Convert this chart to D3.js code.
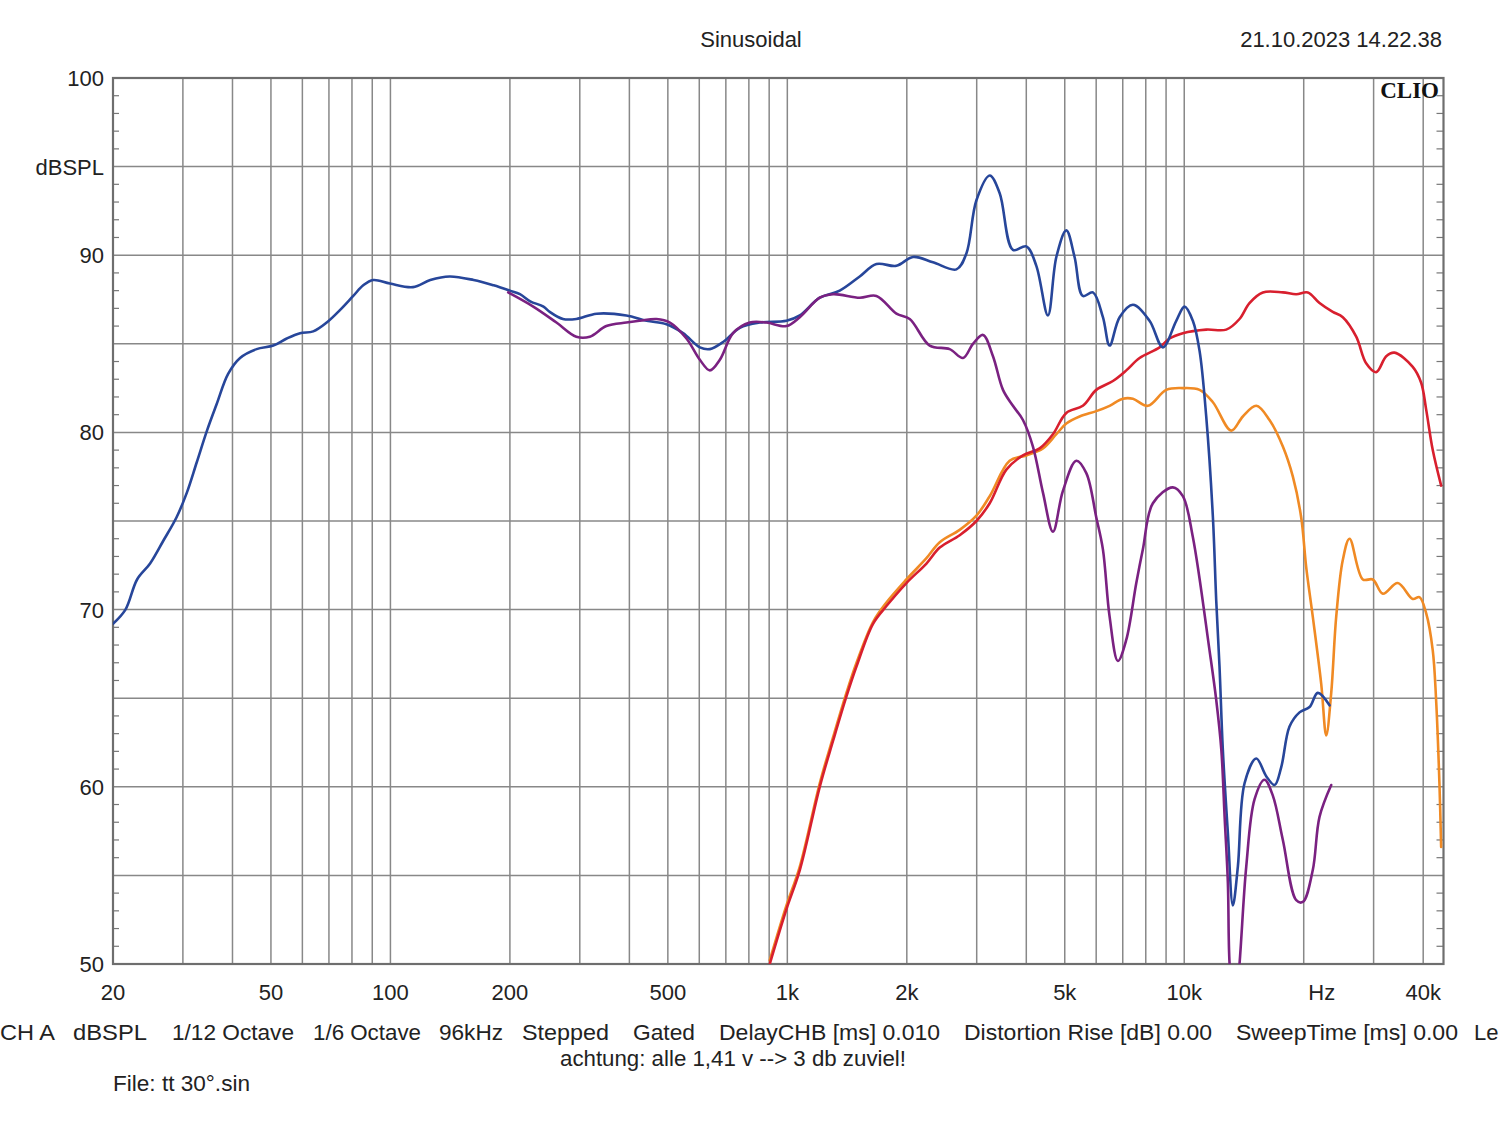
<!DOCTYPE html>
<html>
<head>
<meta charset="utf-8">
<script src="https://cdn.jsdelivr.net/npm/d3@7"></script>
<style>
  html, body { margin: 0; padding: 0; background: #fff; }
  svg { display: block; font-family: "Liberation Sans", Arial, sans-serif; }
</style>
</head>
<body>
<svg id="chart" width="1500" height="1121"></svg>
<script>
// ---------- data ----------
const blueF = [20,21.5,23,24.8,26.8,28.9,30.7,32.5,34.5,36.5,39,41.8,46,50.7,54.8,59.2,63.9,69.1,74.6,80.6,85.4,90.5,99.7,114,126,141,162,182,200,212,225,243,252,272,294,331,393,442,496,546,602,638,689,759,852,995,1075,1207,1355,1522,1677,1883,2073,2328,2667,2826,2995,3235,3428,3702,4001,4240,4535,4762,5045,5293,5553,5887,6239,6486,6874,7424,8177,8835,9548,10020,10512,10930,11360,11810,12040,12270,12510,12880,13260,13650,14190,15190,16090,16890,17550,18420,19520,20690,21700,23230];
const blueDb = [69.2,70.0,71.7,72.6,73.9,75.2,76.6,78.3,80.1,81.6,83.3,84.2,84.7,84.9,85.3,85.6,85.7,86.2,86.9,87.7,88.3,88.6,88.4,88.2,88.6,88.8,88.6,88.3,88.0,87.8,87.4,87.1,86.8,86.4,86.4,86.7,86.6,86.3,86.1,85.6,84.8,84.7,85.1,85.9,86.2,86.3,86.6,87.6,88.0,88.8,89.5,89.4,89.9,89.6,89.2,90.1,93.1,94.5,93.5,90.3,90.5,89.4,86.6,89.9,91.4,89.9,87.7,87.9,86.5,84.9,86.5,87.2,86.3,84.8,86.3,87.1,86.3,84.6,80.9,75.2,70.5,66.8,62.1,57.4,53.3,55.5,60.2,61.6,60.6,60.1,61.1,63.4,64.2,64.5,65.3,64.6];

const purpleF = [198,229,262,294,318,350,393,425,468,506,557,602,638,676,730,804,886,995,1075,1207,1304,1522,1677,1883,2034,2284,2564,2771,2936,3112,3297,3494,3702,3923,4157,4406,4669,4947,5346,5666,6004,6239,6486,6806,7145,7572,7867,8337,9363,9920,10512,11580,12040,12400,12640,12880,13010,13390,13780,14330,15040,15930,16720,17720,19150,19900,21080,21920,23460];
const purpleDb = [87.9,87.1,86.2,85.4,85.4,86.0,86.2,86.3,86.4,86.2,85.3,84.1,83.5,84.1,85.6,86.2,86.2,86.0,86.5,87.6,87.8,87.6,87.7,86.7,86.4,84.9,84.7,84.2,85.0,85.5,84.3,82.4,81.5,80.7,79.2,76.6,74.4,76.7,78.4,77.7,75.2,73.4,69.6,67.1,68.3,71.5,73.4,76.0,76.9,76.4,74.1,67.7,64.9,62.1,58.3,54.6,50.0,47.0,50.0,55.5,59.3,60.4,59.5,57.0,53.6,53.5,55.3,58.3,60.1];

const redF = [903,995,1075,1207,1304,1409,1494,1644,1777,1995,2241,2421,2718,2995,3235,3563,3923,4322,4669,5045,5553,6004,6612,7145,7718,8668,9185,9920,11360,12760,13780,14600,15780,17720,19150,20480,21920,23670,25090,27120,28730,30450,32280,33860,37650,39530,40690,42280,44390];
const redDb = [50.0,53.1,55.3,60.0,62.6,65.1,66.8,69.2,70.2,71.5,72.6,73.5,74.2,75.0,76.0,77.9,78.7,79.1,79.9,81.1,81.5,82.4,82.9,83.5,84.2,84.8,85.3,85.6,85.8,85.8,86.4,87.3,87.9,87.9,87.8,87.9,87.3,86.8,86.5,85.4,83.9,83.4,84.3,84.5,83.7,82.8,81.3,79.0,77.0];

const orangeF = [903,995,1075,1207,1304,1409,1494,1644,1777,1995,2241,2421,2718,2995,3235,3632,4001,4406,4762,5045,5449,6004,6486,7005,7424,8096,9009,9920,10930,11810,13140,14050,15190,16400,17720,18780,19710,20290,21080,22140,22790,23460,24150,25090,26090,28180,29860,31650,34510,37650,39140,40690,42280,43110,43950,44390];
const orangeDb = [50.2,53.3,55.5,60.2,62.8,65.3,67.0,69.3,70.4,71.7,72.9,73.8,74.5,75.3,76.4,78.4,78.7,79.1,79.9,80.5,80.9,81.2,81.5,81.9,81.9,81.5,82.4,82.5,82.4,81.7,80.1,80.9,81.5,80.7,79.2,77.5,75.2,72.4,69.6,65.8,62.9,65.3,69.6,72.8,74.0,71.7,71.7,70.9,71.5,70.6,70.7,69.8,67.7,64.9,60.2,56.6];

const xTickValues = [20,50,100,200,500,1000,2000,5000,10000,40000];
const xTickLabels = ["20","50","100","200","500","1k","2k","5k","10k","40k"];
const yTickValues = [100,95,90,80,70,60,50];
const yTickLabels = ["100","dBSPL","90","80","70","60","50"];

const infoItems = ["CH A","dBSPL","1/12 Octave","1/6 Octave","96kHz","Stepped","Gated","DelayCHB [ms] 0.010","Distortion Rise [dB] 0.00","SweepTime [ms] 0.00","Le"];

// ---------- layout ----------
const L = 113, R = 1443.5, T = 78, B = 964;
const svg = d3.select("#chart");
const x = d3.scaleLog().domain([20, 45000]).range([L, R]);
const y = d3.scaleLinear().domain([50, 100]).range([B, T]);

svg.append("defs").append("clipPath").attr("id","plotclip")
  .append("rect").attr("x",L).attr("y",T).attr("width",R-L).attr("height",B-T);

// grid verticals
const vgrid = [];
[10,100,1000,10000].forEach(dec => { for (let k=1;k<=9;k++){ const v=dec*k; if (v>20 && v<45000) vgrid.push(v);} });
vgrid.push(20000,30000,40000);
const gridG = svg.append("g").attr("stroke","#888").attr("stroke-width",1.5);
gridG.selectAll("line.v").data(Array.from(new Set(vgrid))).enter().append("line")
  .attr("x1",d=>x(d)).attr("x2",d=>x(d)).attr("y1",T).attr("y2",B);
gridG.selectAll("line.h").data(d3.range(55,100,5)).enter().append("line")
  .attr("x1",L).attr("x2",R).attr("y1",d=>y(d)).attr("y2",d=>y(d));

// minor ticks (1 dB) on left and right
const minor = d3.range(51,100).filter(d=>d%5!==0);
const tickG = svg.append("g").attr("stroke","#777").attr("stroke-width",1.2);
tickG.selectAll("line.l").data(minor).enter().append("line")
  .attr("x1",L).attr("x2",L+6).attr("y1",d=>y(d)).attr("y2",d=>y(d));
tickG.selectAll("line.r").data(minor).enter().append("line")
  .attr("x1",R-7).attr("x2",R).attr("y1",d=>y(d)).attr("y2",d=>y(d));

// frame
svg.append("rect").attr("x",L).attr("y",T).attr("width",R-L).attr("height",B-T)
  .attr("fill","none").attr("stroke","#6e6e6e").attr("stroke-width",2.2);

// curves
const line = d3.line().x(d=>x(d[0])).y(d=>y(d[1])).curve(d3.curveCatmullRom.alpha(0.5));
const plotG = svg.append("g").attr("clip-path","url(#plotclip)").attr("fill","none")
  .attr("stroke-width",2.6).attr("stroke-linejoin","round").attr("stroke-linecap","round");
const series = [
  {f: orangeF, v: orangeDb, c: "#f08a24"},
  {f: redF, v: redDb, c: "#d81f2e"},
  {f: blueF, v: blueDb, c: "#27469a"},
  {f: purpleF, v: purpleDb, c: "#7a2181"}
];
series.forEach(s => {
  plotG.append("path").datum(s.f.map((f,i)=>[f, s.v[i]])).attr("d", line).attr("stroke", s.c);
});

// axis labels
const txt = svg.append("g").attr("fill","#222").attr("font-size",22);
txt.selectAll("text.y").data(yTickValues).enter().append("text")
  .attr("x",104).attr("y",d=>y(d)+8).attr("text-anchor","end")
  .text((d,i)=>yTickLabels[i]);
txt.selectAll("text.x").data(xTickValues).enter().append("text")
  .attr("x",d=>x(d)).attr("y",1000).attr("text-anchor","middle")
  .text((d,i)=>xTickLabels[i]);
txt.append("text").attr("x", x(20000)+18).attr("y",1000).attr("text-anchor","middle").text("Hz");

// header
txt.append("text").attr("x",751).attr("y",47).attr("text-anchor","middle").text("Sinusoidal");
txt.append("text").attr("x",1442).attr("y",47).attr("text-anchor","end").text("21.10.2023 14.22.38");
svg.append("text").attr("x",1439).attr("y",98).attr("text-anchor","end")
  .attr("font-family","'Liberation Serif','DejaVu Serif',serif").attr("font-weight","bold")
  .attr("font-size",23).attr("fill","#111").text("CLIO");

// footer info line
const infoX = [0,73,172,313,439,522,633,719,964,1236,1474];
const infoW = [55,74,122,108,64,87,62,221,248,222,null];
infoItems.forEach((t,i) => {
  const el = txt.append("text").attr("x",infoX[i]).attr("y",1040).text(t);
  if (infoW[i]) el.attr("textLength",infoW[i]).attr("lengthAdjust","spacingAndGlyphs");
});
txt.append("text").attr("x",560).attr("y",1066).attr("textLength",346).attr("lengthAdjust","spacingAndGlyphs")
  .text("achtung: alle 1,41 v --> 3 db zuviel!");
txt.append("text").attr("x",113).attr("y",1091).attr("textLength",137).attr("lengthAdjust","spacingAndGlyphs")
  .text("File: tt 30°.sin");
</script>
</body>
</html>
